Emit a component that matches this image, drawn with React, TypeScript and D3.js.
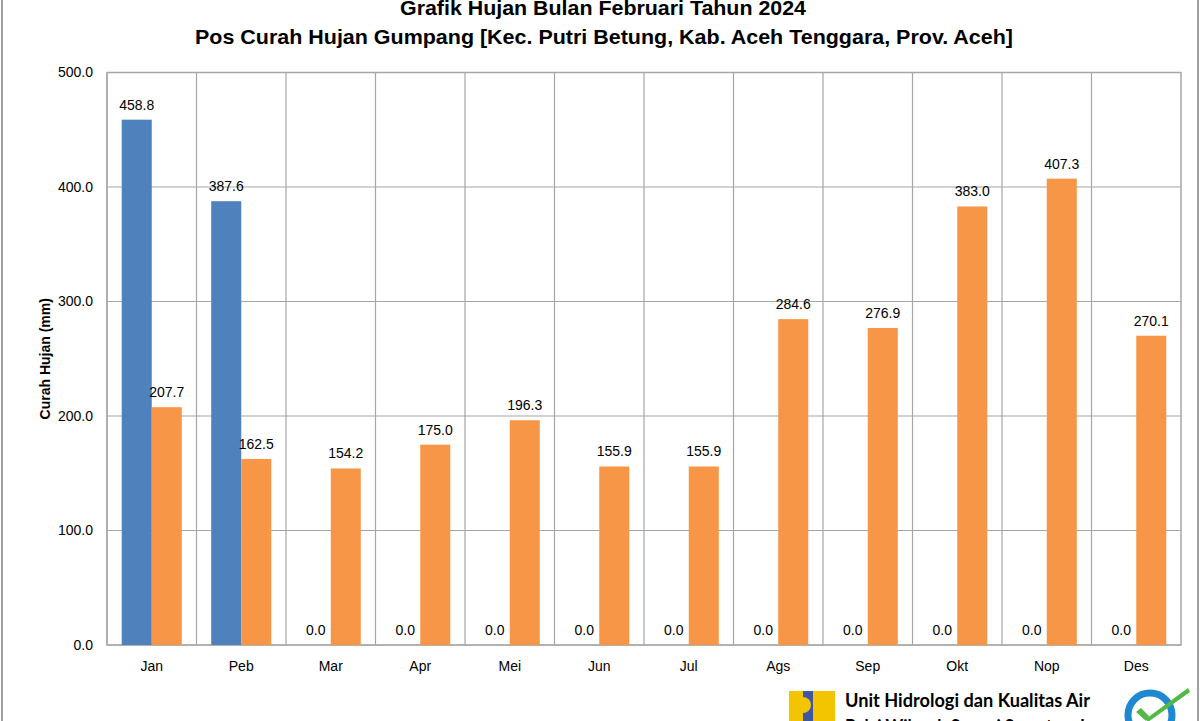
import React from "react";
import * as d3 from "d3";

const months = ["Jan", "Peb", "Mar", "Apr", "Mei", "Jun", "Jul", "Ags", "Sep", "Okt", "Nop", "Des"];
const rain2024 = [458.8, 387.6, 0, 0, 0, 0, 0, 0, 0, 0, 0, 0];
const rainAvg = [207.7, 162.5, 154.2, 175.0, 196.3, 155.9, 155.9, 284.6, 276.9, 383.0, 407.3, 270.1];
const yTicks = [0, 100, 200, 300, 400, 500];
const seriesKeys = ["2024", "avg"];
const seriesColors = ["#4F81BD", "#F79646"];
const title1 = "Grafik Hujan Bulan Februari Tahun 2024";
const title2 = "Pos Curah Hujan Gumpang [Kec. Putri Betung, Kab. Aceh Tenggara, Prov. Aceh]";
const yTitle = "Curah Hujan (mm)";
const footer1 = "Unit Hidrologi dan Kualitas Air";
const footer2 = "Balai Wilayah Sungai Sumatera I";

const W = 1200;
const H = 721;
const left = 107;
const right = 1181;
const top = 72.5;
const bottom = 645;

export default function App() {
  const x = d3.scaleBand<string>().domain(months).range([left, right]).padding(0);
  const xs = d3.scaleBand<string>().domain(seriesKeys).range([0, x.bandwidth()]).paddingInner(0).paddingOuter(0.49);
  const y = d3.scaleLinear().domain([0, 500]).range([bottom, top]);
  const fmt = d3.format(".1f");
  const series = [rain2024, rainAvg];
  const font = "'Liberation Sans', Arial, sans-serif";

  return (
    <svg width={W} height={H} style={{ position: "fixed", left: 0, top: 0, background: "#fff" }} fontFamily={font}>
      <rect x={0} y={0} width={W} height={H} fill="#fff" />
      {/* outer frame */}
      <line x1={2} x2={2} y1={0} y2={H} stroke="#A0A0A0" strokeWidth={2} />
      <line x1={1198} x2={1198} y1={0} y2={H} stroke="#A0A0A0" strokeWidth={2} />

      {/* titles */}
      <text x={603} y={15} textAnchor="middle" fontWeight="bold" fontSize={21} textLength={406} lengthAdjust="spacingAndGlyphs">{title1}</text>
      <text x={604} y={44} textAnchor="middle" fontWeight="bold" fontSize={21} textLength={818} lengthAdjust="spacingAndGlyphs">{title2}</text>

      {/* horizontal gridlines */}
      {yTicks.map((t) => (
        <line key={"h" + t} x1={left} x2={right} y1={y(t)} y2={y(t)} stroke="#A6A6A6" strokeWidth={1.2} />
      ))}
      {/* vertical gridlines */}
      {months.map((m) => (
        <line key={"v" + m} x1={x(m)!} x2={x(m)!} y1={top} y2={bottom} stroke="#A6A6A6" strokeWidth={1.2} />
      ))}
      <rect x={left} y={top} width={right - left} height={bottom - top} fill="none" stroke="#A6A6A6" strokeWidth={1.5} />

      {/* y tick labels */}
      {yTicks.map((t) => (
        <text key={"yt" + t} x={93} y={y(t)} dy="0.35em" textAnchor="end" fontSize={14}>{fmt(t)}</text>
      ))}
      <text transform={`translate(50,${(top + bottom) / 2}) rotate(-90)`} textAnchor="middle" fontWeight="bold" fontSize={14}>{yTitle}</text>

      {/* bars */}
      {series.map((vals, si) =>
        vals.map((v, i) => {
          const bx = x(months[i])! + xs(seriesKeys[si])!;
          return (
            <g key={"b" + si + "-" + i}>
              {v > 0 && <rect x={bx} y={y(v)} width={xs.bandwidth()} height={y(0) - y(v)} fill={seriesColors[si]} />}
              <text x={bx + xs.bandwidth() / 2} y={y(v) - 10} textAnchor="middle" fontSize={14}>{fmt(v)}</text>
            </g>
          );
        })
      )}

      {/* x labels */}
      {months.map((m) => (
        <text key={"xl" + m} x={x(m)! + x.bandwidth() / 2} y={671} textAnchor="middle" fontSize={14}>{m}</text>
      ))}

      {/* footer logo */}
      <g>
        <rect x={789} y={691} width={46} height={30} fill="#F2C500" />
        <rect x={803} y={691} width={10} height={30} fill="#3F56A0" />
        <path d="M803,697 A8,8 0 0 1 803,713 Z" fill="#F2C500" />
        <rect x={833} y={691} width={2} height={30} fill="#F2C500" />
      </g>
      <text x={845} y={707} fontWeight="bold" fontSize={18} fontFamily="Lato, 'Open Sans', sans-serif" textLength={245} lengthAdjust="spacingAndGlyphs">{footer1}</text>
      <text x={845} y={733} fontWeight="bold" fontSize={18} fontFamily="Lato, 'Open Sans', sans-serif" textLength={240} lengthAdjust="spacingAndGlyphs">{footer2}</text>

      {/* ISO badge */}
      <g>
        <circle cx={1150} cy={715} r={22} fill="none" stroke="#1E88D0" strokeWidth={7} />
        <circle cx={1150} cy={715} r={15} fill="#fff" />
        <path d="M1138,708 L1147,718 L1188,688 L1190,692 L1148,722 Z" fill="#52B947" />
        <path d="M1136,712 L1141,708 L1149,716 L1146,721 Z" fill="#52B947" />
      </g>
    </svg>
  );
}
